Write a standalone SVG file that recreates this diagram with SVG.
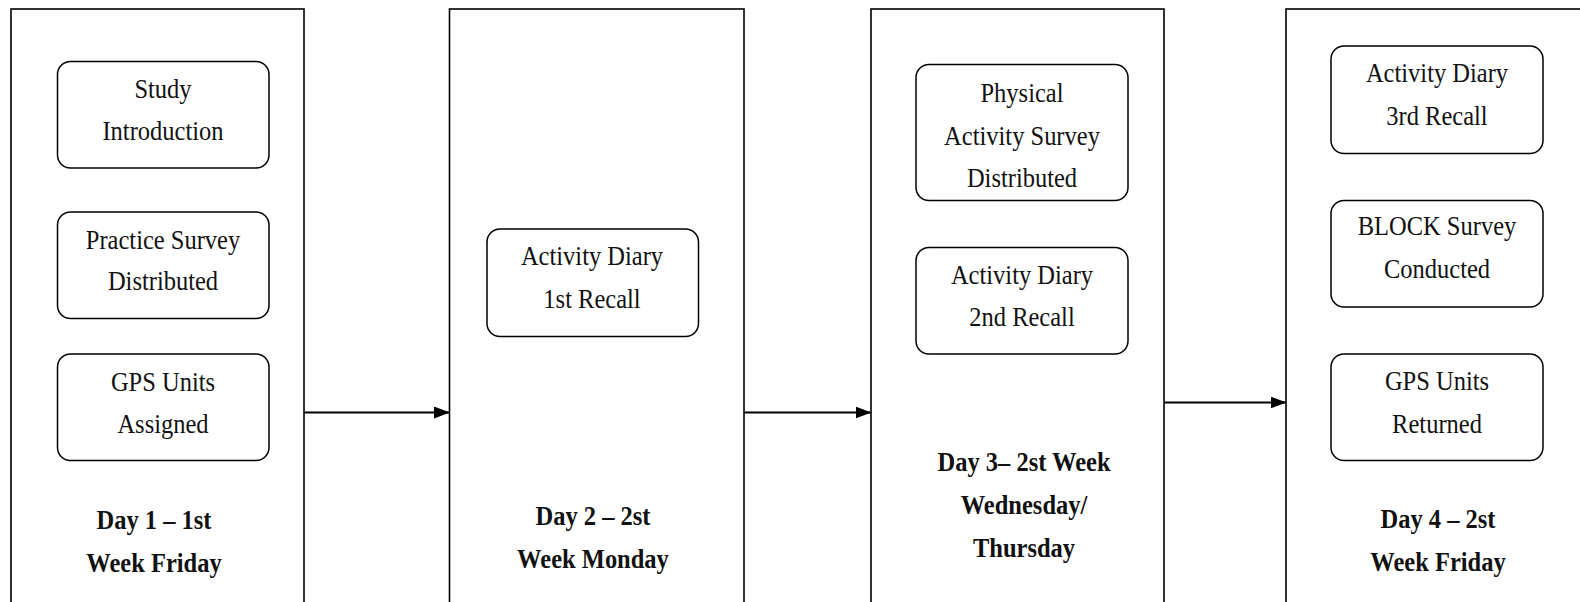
<svg xmlns="http://www.w3.org/2000/svg" width="1580" height="602" viewBox="0 0 1580 602">
<defs>
<style>
.outer{fill:#fff;stroke:#000;stroke-width:1.6}
.inner{fill:#fff;stroke:#000;stroke-width:1.5}
.t{font-family:"Liberation Serif","Times New Roman",serif;font-size:24.5px;fill:#111;text-anchor:middle}
.b{font-family:"Liberation Serif","Times New Roman",serif;font-size:24.5px;font-weight:bold;fill:#111;text-anchor:middle}
.conn{stroke:#000;stroke-width:1.8;fill:none}
</style>
<marker id="ah" markerWidth="16" markerHeight="12" refX="15" refY="6" orient="auto" markerUnits="userSpaceOnUse">
<polygon points="0,0 16,6 0,12" fill="#000"/>
</marker>
</defs>
<rect width="1580" height="602" fill="#fff"/>

<g id="day1">
<rect class="outer" x="11" y="9" width="293" height="620"/>
<text class="b" transform="matrix(1 0 0 1.1 154 529)">Day 1 – 1st</text>
<text class="b" transform="matrix(1 0 0 1.1 154 572)">Week Friday</text>
</g>
<g id="study-introduction">
<rect class="inner" x="57.5" y="61.5" width="211.5" height="106.5" rx="13"/>
<text class="t" transform="matrix(1 0 0 1.1 163 98)">Study</text>
<text class="t" transform="matrix(1 0 0 1.1 163 140)">Introduction</text>
</g>
<g id="practice-survey">
<rect class="inner" x="57.5" y="212" width="211.5" height="106.5" rx="13"/>
<text class="t" transform="matrix(1 0 0 1.1 163 249)">Practice Survey</text>
<text class="t" transform="matrix(1 0 0 1.1 163 290)">Distributed</text>
</g>
<g id="gps-assigned">
<rect class="inner" x="57.5" y="354" width="211.5" height="106.5" rx="13"/>
<text class="t" transform="matrix(1 0 0 1.1 163 391)">GPS Units</text>
<text class="t" transform="matrix(1 0 0 1.1 163 433)">Assigned</text>
</g>

<g id="day2">
<rect class="outer" x="449.5" y="9" width="294.5" height="620"/>
<text class="b" transform="matrix(1 0 0 1.1 593 525)">Day 2 – 2st</text>
<text class="b" transform="matrix(1 0 0 1.1 593 568)">Week Monday</text>
</g>
<g id="diary-1st">
<rect class="inner" x="487" y="229" width="211.5" height="107.5" rx="13"/>
<text class="t" transform="matrix(1 0 0 1.1 592 265)">Activity Diary</text>
<text class="t" transform="matrix(1 0 0 1.1 592 308)">1st Recall</text>
</g>

<g id="day3">
<rect class="outer" x="871" y="9" width="293" height="620"/>
<text class="b" transform="matrix(1 0 0 1.1 1024 471)">Day 3– 2st Week</text>
<text class="b" transform="matrix(1 0 0 1.1 1024 514)">Wednesday/</text>
<text class="b" transform="matrix(1 0 0 1.1 1024 557)">Thursday</text>
</g>
<g id="pa-survey">
<rect class="inner" x="916" y="64.5" width="212" height="136" rx="13"/>
<text class="t" transform="matrix(1 0 0 1.1 1022 102)">Physical</text>
<text class="t" transform="matrix(1 0 0 1.1 1022 145)">Activity Survey</text>
<text class="t" transform="matrix(1 0 0 1.1 1022 187)">Distributed</text>
</g>
<g id="diary-2nd">
<rect class="inner" x="916" y="247.5" width="212" height="106.5" rx="13"/>
<text class="t" transform="matrix(1 0 0 1.1 1022 284)">Activity Diary</text>
<text class="t" transform="matrix(1 0 0 1.1 1022 326)">2nd Recall</text>
</g>

<g id="day4">
<rect class="outer" x="1286" y="9" width="310" height="620"/>
<text class="b" transform="matrix(1 0 0 1.1 1438 528)">Day 4 – 2st</text>
<text class="b" transform="matrix(1 0 0 1.1 1438 571)">Week Friday</text>
</g>
<g id="diary-3rd">
<rect class="inner" x="1331" y="46" width="212" height="107.5" rx="13"/>
<text class="t" transform="matrix(1 0 0 1.1 1437 82)">Activity Diary</text>
<text class="t" transform="matrix(1 0 0 1.1 1437 125)">3rd Recall</text>
</g>
<g id="block-survey">
<rect class="inner" x="1331" y="200.5" width="212" height="106.5" rx="13"/>
<text class="t" transform="matrix(1 0 0 1.1 1437 235)">BLOCK Survey</text>
<text class="t" transform="matrix(1 0 0 1.1 1437 278)">Conducted</text>
</g>
<g id="gps-returned">
<rect class="inner" x="1331" y="354" width="212" height="106.5" rx="13"/>
<text class="t" transform="matrix(1 0 0 1.1 1437 390)">GPS Units</text>
<text class="t" transform="matrix(1 0 0 1.1 1437 433)">Returned</text>
</g>

<g id="connectors">
<line class="conn" x1="304" y1="412.5" x2="449" y2="412.5" marker-end="url(#ah)"/>
<line class="conn" x1="744" y1="412.5" x2="870.5" y2="412.5" marker-end="url(#ah)"/>
<line class="conn" x1="1164" y1="402.5" x2="1285.5" y2="402.5" marker-end="url(#ah)"/>
</g>
</svg>
